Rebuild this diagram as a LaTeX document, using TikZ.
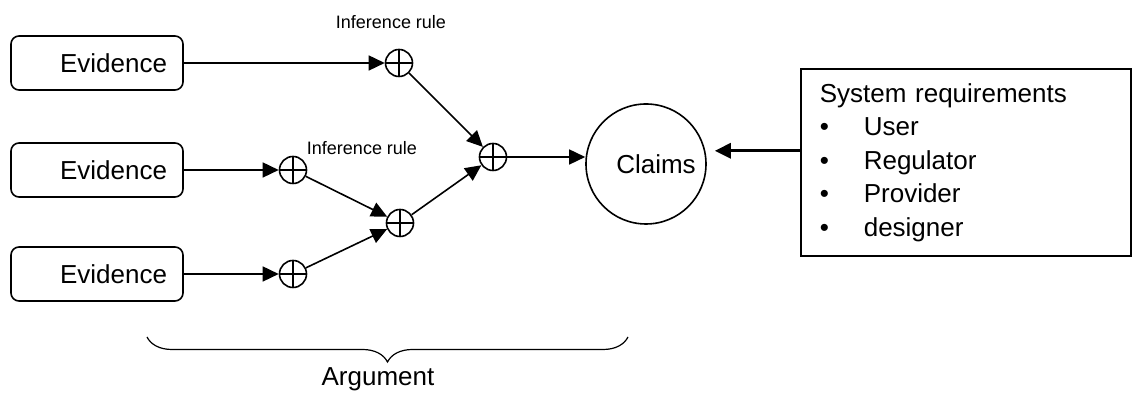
\documentclass[tikz,border=0pt]{standalone}
\usepackage{fontspec}
\setmainfont{Liberation Sans}
\usepackage{tikz}
\usetikzlibrary{arrows.meta, decorations.pathreplacing}

\newcommand{\reqitem}[1]{\makebox[22pt][l]{\textbullet}#1}

\begin{document}
\begin{tikzpicture}[
    x=0.5pt, y=-0.5pt, line width=0.8pt,
    evbox/.style={draw, rounded corners=4pt, minimum width=86pt, minimum height=27pt, text width=70pt, inner xsep=8pt, align=right, font=\fontsize{13}{16}\selectfont},
    rule/.style={draw, circle, minimum size=13.5pt, inner sep=0pt,
        path picture={\draw (path picture bounding box.north) -- (path picture bounding box.south)
                            (path picture bounding box.west) -- (path picture bounding box.east);}},
    rulelbl/.style={font=\fontsize{9}{11}\selectfont},
    reqbox/.style={draw, minimum width=165pt, minimum height=93.5pt, text width=146pt, inner xsep=9.5pt, align=left, font=\fontsize{13}{16.75}\selectfont},
    arr/.style={->, >={Triangle[length=8pt, width=7.5pt]}},
    thickarr/.style={->, line width=1.6pt, >={Triangle[length=8pt, width=7.5pt]}}
]
    \useasboundingbox (0,0) rectangle (1132,394);

    % Evidence
    \node[evbox] (ev1) at (97,63) {Evidence};
    \node[evbox] (ev2) at (97,170) {Evidence};
    \node[evbox] (ev3) at (97,274) {Evidence};

    % Inference rules
    \node[rule] (r1) at (399,63) {};
    \node[rule] (r2) at (293,170) {};
    \node[rule] (r3) at (293,274) {};
    \node[rule] (r4) at (400,223) {};
    \node[rule] (r5) at (493,157) {};
    \node[rulelbl] (lbltop) at (391,22) {Inference rule};
    \node[rulelbl] (lblmid) at (362,148) {Inference rule};

    % Claims and requirements
    \node[draw, circle, minimum size=60pt, inner sep=0pt, font=\fontsize{13}{16}\selectfont] (claims) at (646,164) {\hspace*{10pt}Claims};
    \node[reqbox, anchor=north west] (req) at (800,68) {System requirements\\
        \reqitem{User}\\ \reqitem{Regulator}\\ \reqitem{Provider}\\ \reqitem{designer}};

    % Connections
    \draw[arr] (ev1) -- (r1);
    \draw[arr] (ev2) -- (r2);
    \draw[arr] (ev3) -- (r3);
    \draw[arr] (r1) -- (r5);
    \draw[arr] (r2) -- (r4);
    \draw[arr] (r3) -- (r4);
    \draw[arr] (r4) -- (r5);
    \draw[arr] (r5) -- (r5 -| claims.west);
    \draw[thickarr, shorten >=4pt] ([yshift=5.75pt]req.west) -- ([yshift=5.75pt]req.west -| claims.east);

    % Argument brace
    \coordinate (braceL) at (147,337);
    \coordinate (braceR) at (628,337);
    \draw[line width=0.6pt, decorate, decoration={brace, mirror, amplitude=12.5pt}] (braceL) -- (braceR);
    \node[font=\fontsize{13}{16}\selectfont] (argument) at (378,379) {Argument};
\end{tikzpicture}
\end{document}
